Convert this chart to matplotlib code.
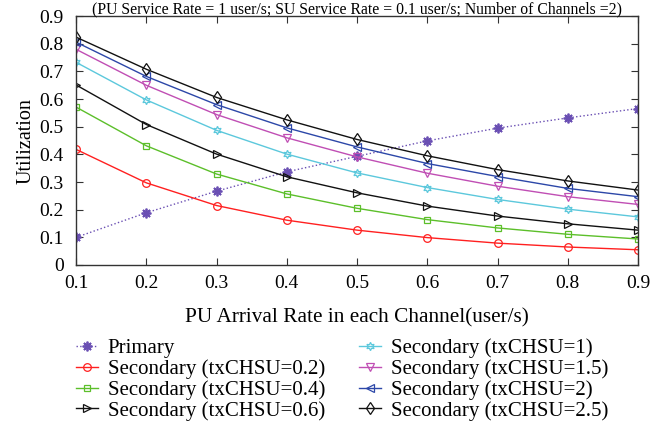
import matplotlib
matplotlib.use("Agg")
import matplotlib.pyplot as plt

plt.rcParams['font.family'] = ['Liberation Serif', 'DejaVu Serif']

arrival_rate = [0.1, 0.2, 0.3, 0.4, 0.5, 0.6, 0.7, 0.8, 0.9]

primary = [0.100, 0.189, 0.267, 0.337, 0.393, 0.449, 0.495, 0.532, 0.566]
sec_02 = [0.418, 0.297, 0.215, 0.162, 0.126, 0.099, 0.079, 0.065, 0.055]
sec_04 = [0.571, 0.431, 0.329, 0.257, 0.205, 0.164, 0.134, 0.111, 0.094]
sec_06 = [0.651, 0.508, 0.401, 0.319, 0.261, 0.213, 0.177, 0.149, 0.126]
sec_10 = [0.733, 0.597, 0.487, 0.401, 0.333, 0.280, 0.237, 0.202, 0.174]
sec_15 = [0.780, 0.650, 0.544, 0.460, 0.391, 0.332, 0.285, 0.247, 0.219]
sec_20 = [0.806, 0.682, 0.580, 0.496, 0.427, 0.367, 0.320, 0.277, 0.247]
sec_25 = [0.824, 0.708, 0.606, 0.525, 0.454, 0.395, 0.345, 0.304, 0.271]

labels = ["Primary",
          "Secondary (txCHSU=0.2)", "Secondary (txCHSU=0.4)",
          "Secondary (txCHSU=0.6)", "Secondary (txCHSU=1)",
          "Secondary (txCHSU=1.5)", "Secondary (txCHSU=2)",
          "Secondary (txCHSU=2.5)"]

x_ticks = [0.1, 0.2, 0.3, 0.4, 0.5, 0.6, 0.7, 0.8, 0.9]
y_ticks = [0, 0.1, 0.2, 0.3, 0.4, 0.5, 0.6, 0.7, 0.8, 0.9]

fig = plt.figure(figsize=(6.51, 4.26), dpi=100)
ax = fig.add_axes([0.117, 0.378, 0.863, 0.584])

styles = [
    dict(color="#6a4fb3", marker=(8, 2, 0), ls=":", ms=7, mew=1.3),
    dict(color="#ff2020", marker="o", ls="-", ms=5.5),
    dict(color="#5cbf2a", marker="s", ls="-", ms=4.5),
    dict(color="#111111", marker=">", ls="-", ms=6),
    dict(color="#5cc8dc", marker=(6, 1, 0), ls="-", ms=6),
    dict(color="#c04eb4", marker="v", ls="-", ms=6),
    dict(color="#2c47a8", marker="<", ls="-", ms=6),
    dict(color="#111111", marker="d", ls="-", ms=6),
]
series = [primary, sec_02, sec_04, sec_06, sec_10, sec_15, sec_20, sec_25]

for ys, st, lab in zip(series, styles, labels):
    ax.plot(arrival_rate, ys, label=lab, lw=1.0, mfc="none",
            color=st["color"], marker=st["marker"], linestyle=st["ls"],
            markersize=st["ms"], markeredgewidth=st.get("mew", 0.9))

ax.set_xlim(0.1, 0.9)
ax.set_ylim(0, 0.9)
ax.set_xticks(x_ticks)
ax.set_yticks(y_ticks)
ax.set_xticklabels([f"{v:g}" for v in x_ticks])
ax.set_yticklabels([f"{v:g}" for v in y_ticks])
ax.tick_params(direction="in", top=True, right=True, labelsize=14,
               length=5, width=0.8, color="#333333")
ax.tick_params(axis="x", pad=7)
ax.tick_params(axis="y", pad=9)
for sp in ax.spines.values():
    sp.set_color("#333333")
    sp.set_linewidth(1.0)

ax.set_xlabel("PU Arrival Rate in each Channel(user/s)", fontsize=15.3, labelpad=12)
ax.set_ylabel("Utilization", fontsize=14.5, labelpad=3)
ax.set_title("(PU Service Rate = 1 user/s; SU Service Rate = 0.1 user/s; Number of Channels =2)",
             fontsize=11.3, pad=2)

fig.legend(loc="upper left", bbox_to_anchor=(0.116, 0.2056), ncol=2, frameon=False,
           fontsize=15, handlelength=1.1, handletextpad=0.45, columnspacing=1.6,
           labelspacing=0.055, borderaxespad=0, borderpad=0)

fig.savefig("out.png", dpi=100)
